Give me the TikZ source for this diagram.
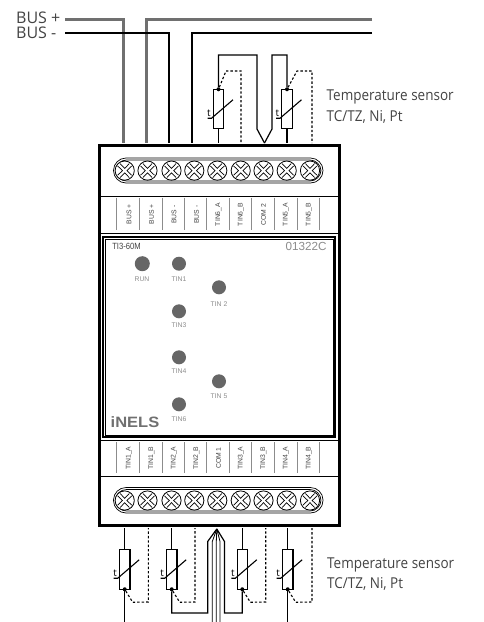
\documentclass[tikz,border=0pt]{standalone}
\usepackage{fontspec}
\setmainfont{Open Sans}
\newfontfamily\lab{Liberation Sans}
\definecolor{wiregray}{HTML}{707070}
\definecolor{ledgray}{HTML}{666666}
\definecolor{txtgray}{HTML}{444444}
\definecolor{lightg}{HTML}{8C8C8C}
\tikzset{
  wirethick/.style={line width=1.7pt,black,line join=miter},
  wiregr/.style={line width=2.2pt,draw=wiregray,line join=miter},
  wirethin/.style={line width=1.2pt,black,line join=miter},
  sdash/.style={line width=1.1pt,black,dash pattern=on 2.4pt off 2pt},
  res/.style={draw=black,line width=1.1pt,fill=white,minimum width=10.5pt,minimum height=39.5pt,inner sep=0pt,outer sep=0pt},
  junct/.style={circle,fill=black,inner sep=0pt,minimum size=4pt},
  big/.style={font=\fontsize{16}{18}\selectfont,text=txtgray,inner sep=0pt},
  sens/.style={font=\fontsize{15}{17}\selectfont,text=txtgray,inner sep=0pt,anchor=west,xscale=.9},
  tlab/.style={font=\fontsize{10}{11}\selectfont,text=black,inner sep=0pt},
  strip/.style={font=\lab\fontsize{6.8}{7}\selectfont,text=txtgray,rotate=90,inner sep=0pt},
  led/.style={circle,fill=ledgray,inner sep=0pt,minimum size=14pt},
  ledlab/.style={font=\lab\fontsize{6.8}{7}\selectfont,text=lightg,inner sep=0pt},
  tick/.style={line width=.5pt,lightg},
}
\newcommand{\screw}[2]{%
  \begin{scope}[shift={(#1,#2)}]
    \draw[line width=.8pt,fill=white] (0,0) circle (9.6);
    \draw[line width=.7pt] (-7,-4.6) -- (-2.2,0) -- (-7,4.6);
    \draw[line width=.7pt] (7,-4.6) -- (2.2,0) -- (7,4.6);
    \draw[line width=.7pt] (-4.6,-7) -- (0,-2.2) -- (4.6,-7);
    \draw[line width=.7pt] (-4.6,7) -- (0,2.2) -- (4.6,7);
  \end{scope}}
\newcommand{\tslash}[2]{%
  \draw[line width=1.1pt] ($(#1)+(-11,#2)$) -- ++(4,0) -- ++(21.5,-18.5);
  \node[tlab] at ($(#1)+(-9.5,#2-5)$) {t};}
\usetikzlibrary{calc}
\begin{document}
\begin{tikzpicture}[x=1pt,y=-1pt]
\useasboundingbox (0,0) rectangle (483,622);
\fill[white] (0,0) rectangle (483,622);

% housing
\node[draw=black,line width=2.6pt,minimum width=239.5pt,minimum height=380.5pt,inner sep=0pt,outer sep=0pt] (box) at (219.5,335.5) {};
\draw[line width=1pt,black] (100,196) -- (339,196);
\draw[line width=1pt,black] (100,233.5) -- (339,233.5);
\draw[line width=1pt,black] (100,440) -- (339,440);
\draw[line width=1pt,black] (100,476) -- (339,476);
\node[draw=black,line width=1.1pt,minimum width=232pt,minimum height=200pt,inner sep=0pt,outer sep=0pt] (panel) at (219,337) {};
\draw[line width=.5pt,black] (105.5,239) rectangle (333,435.5);

% terminal rails
\draw[line width=.7pt,fill=white,rounded corners=12.5pt] (113.5,158) rectangle (323,183);
\draw[line width=.7pt,rounded corners=11pt] (115.5,160) rectangle (321,181);
\draw[line width=.7pt,fill=white,rounded corners=12.5pt] (113.5,487.5) rectangle (323,513);
\draw[line width=.7pt,rounded corners=11pt] (115.5,489.5) rectangle (321,511);
\foreach \x in {124.7,147.5,171.5,194.3,217.3,240.7,263.5,286.7,310}{
  \screw{\x}{170.6}
  \screw{\x}{500.5}
}

% terminal ticks and labels
\foreach \x in {116.7,139.3,162.3,184.3,206.7,229.3,251.7,274.7,297.3,319.3}{
  \draw[tick] (\x,197.5) -- (\x,230);
  \draw[tick] (\x,442) -- (\x,473);
}
\foreach \x/\t in {129/BUS +,151.5/BUS +,174/BUS -,196.5/BUS -,218.5/TIN6\_A,241/TIN6\_B,263.5/COM 2,286/TIN5\_A,309/TIN5\_B}{
  \node[strip] at (\x,214.5) {\t};
}
\foreach \x/\t in {129/TIN1\_A,151.5/TIN1\_B,174/TIN2\_A,196.5/TIN2\_B,218.5/COM 1,241/TIN3\_A,263.5/TIN3\_B,286/TIN4\_A,309/TIN4\_B}{
  \node[strip] at (\x,458) {\t};
}

% panel contents
\node[font=\lab\fontsize{9}{10}\selectfont,text=txtgray,inner sep=0pt,xscale=.85] (model) at (126.5,246) {TI3-60M};
\node[font=\lab\fontsize{11.7}{12}\selectfont,text=lightg,inner sep=0pt] (code) at (306,246) {01322C};
\node[led,minimum size=15pt] (run) at (142.3,263.7) {};
\node[ledlab] at (142,279) {RUN};
\foreach \n/\x/\y/\ly/\t in {t1/179/263.7/279/TIN1,t2/219/287.3/304/TIN 2,t3/179/311.3/325/TIN3,t4/179/357.3/371/TIN4,t5/219/381.3/396/TIN 5,t6/179/404.3/419/TIN6}{
  \node[led] (\n) at (\x,\y) {};
  \node[ledlab] at (\x,\ly) {\t};
}
\node[font=\lab\bfseries\fontsize{15}{16}\selectfont,text=wiregray,inner sep=0pt,xscale=1.1] (logo) at (135,422.5) {iNELS};

% bus wiring
\node[big,anchor=west] (bp) at (16,17.5) {BUS +};
\node[big,anchor=west] (bm) at (16,33) {BUS -};
\coordinate (bpS) at (65,19.5);
\coordinate (bmS) at (65,33);
\coordinate (bpE) at (372,19.5);
\coordinate (bmE) at (372,33);
\coordinate (tA) at (123.5,143);
\coordinate (tB) at (146.5,143);
\coordinate (tC) at (169,143);
\coordinate (tD) at (192,143);
\draw[wiregr] (bpS) -| (tA);
\draw[wiregr] (bpE) -| (tB);
\draw[wirethick] (bmS) -| (tC);
\draw[wirethick] (bmE) -| (tD);

% upper sensors
\node[res] (r6) at (218.5,109) {};
\node[res] (r5) at (287,109) {};
\node[junct] (j6) at (r6.north) {};
\node[junct] (j5) at (r5.north) {};
\tslash{r6.south}{-10.5}
\tslash{r5.south}{-10.5}
\coordinate (v) at (264.5,143);
\draw[wirethin] (j6) -- (218.5,55) -| (257,129) -- (v);
\draw[wirethin] (j5) -- (287,55) -| (272,129) -- (v);
\draw[line width=1.5pt] (r6.south) -- (218.5,143);
\draw[line width=1.5pt] (r5.south) -- (287,143);
\coordinate (d6) at (241,143);
\coordinate (d5) at (312,143);
\draw[sdash] (j6) -- (226,71) -- (241,71) -- (d6);
\draw[sdash] (j5) -- (297,71) -- (312,71) -- (d5);
\node[sens] (s1a) at (326.5,97) {Temperature sensor};
\node[sens] (s1b) at (326.5,117) {TC/TZ, Ni, Pt};

% lower sensors
\foreach \n/\x/\dx in {a/124.7/148.3,b/171.7/195,c/242.3/265.7,d/287.7/312}{
  \node[res] (r\n) at (\x,569.5) {};
  \node[junct] (j\n) at (r\n.south) {};
  \tslash{r\n.south}{-11}
  \draw[line width=1.1pt] (r\n.north) -- (\x,528);
  \draw[sdash] (j\n) -- ($(j\n)+(8,13)$) -- (\dx,602) -- (\dx,528);
}
\coordinate (apex) at (216.8,529);
\draw[wirethin] (jb) -- (171.7,613) -| (207.7,541.5) -- (apex);
\draw[wirethin] (jc) -- (242.3,613) -| (224.5,541.5) -- (apex);
\draw[line width=.8pt] (apex) -- (212.3,541.5) -- (212.3,622);
\draw[line width=.8pt] (apex) -- (216.3,541.5) -- (216.3,622);
\draw[line width=.8pt] (apex) -- (220,541.5) -- (220,622);
\draw[line width=1.1pt] (ja) -- (124.7,622);
\draw[line width=1.1pt] (jd) -- (287.7,622);
\node[sens] (s2a) at (327,565) {Temperature sensor};
\node[sens] (s2b) at (327,584) {TC/TZ, Ni, Pt};
\end{tikzpicture}
\end{document}
